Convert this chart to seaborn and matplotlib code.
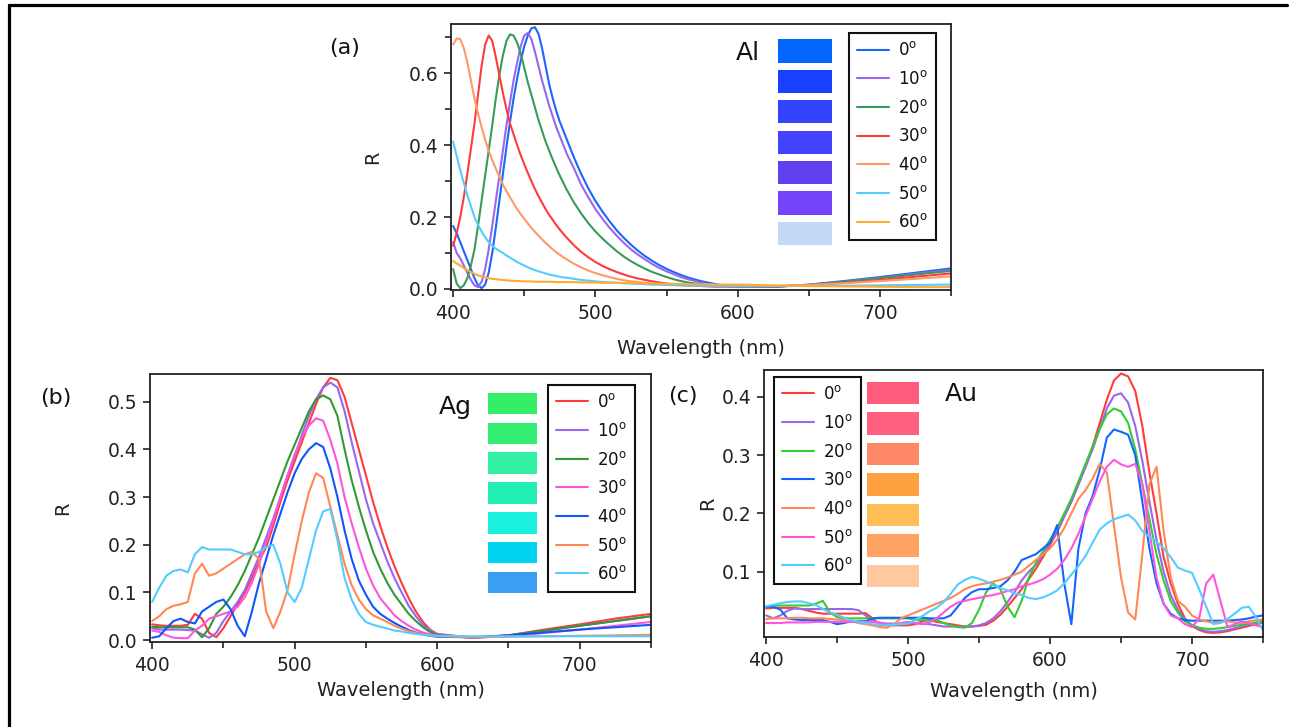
import pandas as pd
import seaborn as sns
import matplotlib.pyplot as plt
from matplotlib.lines import Line2D
from matplotlib.patches import Rectangle
from matplotlib.ticker import FixedLocator, FormatStrFormatter

angles = ["0", "10", "20", "30", "40", "50", "60"]

# wavelength grids (nm); finer steps where the Al peaks are narrow
al_wl = [400 + 2.5 * i for i in range(33)] + list(range(485, 605, 5)) + [625, 650, 675, 700, 725, 750]
ag_wl = list(range(400, 605, 5)) + [625, 650, 675, 700, 725, 750]
au_wl = list(range(400, 755, 5))

# ---- (a) Al ----
al_0 = [0.175, 0.155, 0.13, 0.105, 0.08, 0.055, 0.03, 0.01, 0.002, 0.012, 0.045,
        0.1, 0.17, 0.245, 0.32, 0.395, 0.465, 0.53, 0.585, 0.635, 0.675, 0.705,
        0.725, 0.728, 0.71, 0.67, 0.62, 0.57, 0.53, 0.495, 0.465, 0.44, 0.415,
        0.365, 0.32, 0.28, 0.245, 0.215, 0.188, 0.163, 0.142, 0.123, 0.106, 0.091, 0.078,
        0.066, 0.056, 0.047, 0.039, 0.032, 0.026, 0.021, 0.017, 0.013, 0.01, 0.008, 0.007,
        0.006, 0.012, 0.022, 0.033, 0.045, 0.057]
al_10 = [0.13, 0.1, 0.085, 0.065, 0.045, 0.025, 0.01, 0.005, 0.02, 0.055, 0.11,
         0.175, 0.245, 0.315, 0.385, 0.455, 0.52, 0.58, 0.63, 0.675, 0.705, 0.712,
         0.695, 0.66, 0.62, 0.58, 0.545, 0.51, 0.48, 0.45, 0.425, 0.4, 0.375,
         0.335, 0.29, 0.255, 0.222, 0.195, 0.17, 0.148, 0.128, 0.11, 0.095, 0.082, 0.069,
         0.058, 0.049, 0.041, 0.033, 0.027, 0.022, 0.017, 0.013, 0.011, 0.009, 0.007, 0.006,
         0.006, 0.011, 0.02, 0.031, 0.042, 0.053]
al_20 = [0.055, 0.015, 0.002, 0.01, 0.03, 0.065, 0.11, 0.175, 0.245, 0.315, 0.385,
         0.455, 0.53, 0.595, 0.65, 0.69, 0.708, 0.705, 0.685, 0.655, 0.615, 0.575,
         0.54, 0.505, 0.47, 0.44, 0.41, 0.385, 0.36, 0.337, 0.315, 0.295, 0.275,
         0.24, 0.21, 0.183, 0.16, 0.14, 0.122, 0.105, 0.09, 0.077, 0.066, 0.056, 0.047,
         0.04, 0.033, 0.027, 0.022, 0.018, 0.015, 0.012, 0.01, 0.009, 0.008, 0.007, 0.006,
         0.006, 0.011, 0.02, 0.03, 0.04, 0.05]
al_30 = [0.12, 0.155, 0.2, 0.255, 0.32, 0.39, 0.46, 0.54, 0.62, 0.68, 0.705,
         0.69, 0.645, 0.595, 0.545, 0.5, 0.46, 0.43, 0.4, 0.372, 0.347, 0.323,
         0.3, 0.278, 0.258, 0.24, 0.222, 0.206, 0.192, 0.178, 0.165, 0.153, 0.142,
         0.121, 0.103, 0.088, 0.075, 0.064, 0.055, 0.047, 0.04, 0.034, 0.029, 0.025, 0.021,
         0.018, 0.015, 0.013, 0.011, 0.01, 0.009, 0.008, 0.007, 0.006, 0.006, 0.006, 0.006,
         0.007, 0.01, 0.017, 0.025, 0.034, 0.043]
al_40 = [0.68, 0.697, 0.695, 0.67, 0.63, 0.58, 0.53, 0.488, 0.45, 0.415, 0.385,
         0.358, 0.335, 0.312, 0.29, 0.272, 0.255, 0.238, 0.222, 0.208, 0.195, 0.182,
         0.17, 0.159, 0.148, 0.138, 0.128, 0.119, 0.11, 0.102, 0.095, 0.088, 0.082,
         0.07, 0.06, 0.051, 0.044, 0.038, 0.033, 0.028, 0.024, 0.021, 0.019, 0.017, 0.015,
         0.013, 0.012, 0.011, 0.01, 0.009, 0.009, 0.008, 0.008, 0.007, 0.007, 0.007, 0.007,
         0.008, 0.011, 0.016, 0.022, 0.028, 0.035]
al_50 = [0.41, 0.37, 0.33, 0.295, 0.26, 0.23, 0.2, 0.178, 0.16, 0.144, 0.13,
         0.12, 0.112, 0.106, 0.1, 0.093, 0.087, 0.081, 0.075, 0.07, 0.065, 0.06,
         0.056, 0.052, 0.049, 0.046, 0.043, 0.04, 0.038, 0.036, 0.034, 0.032, 0.031,
         0.028, 0.025, 0.023, 0.021, 0.019, 0.018, 0.017, 0.016, 0.015, 0.014, 0.013, 0.012,
         0.012, 0.011, 0.011, 0.01, 0.01, 0.009, 0.009, 0.009, 0.008, 0.008, 0.008, 0.008,
         0.008, 0.008, 0.009, 0.01, 0.011, 0.012]
al_60 = [0.078, 0.071, 0.065, 0.058, 0.052, 0.047, 0.042, 0.038, 0.035, 0.032, 0.03,
         0.028, 0.027, 0.026, 0.025, 0.024, 0.023, 0.0225, 0.022, 0.0215, 0.021, 0.021,
         0.021, 0.02, 0.02, 0.02, 0.02, 0.02, 0.02, 0.019, 0.019, 0.019, 0.019,
         0.019, 0.018, 0.018, 0.018, 0.017, 0.017, 0.017, 0.016, 0.016, 0.016, 0.015, 0.015,
         0.015, 0.014, 0.014, 0.014, 0.013, 0.013, 0.013, 0.013, 0.012, 0.012, 0.012, 0.012,
         0.01, 0.008, 0.007, 0.006, 0.005, 0.005]

# ---- (b) Ag ----
ag_0 = [0.033, 0.031, 0.03, 0.03, 0.03, 0.032, 0.055, 0.045, 0.015, 0.006,
        0.025, 0.05, 0.075, 0.1, 0.13, 0.165, 0.195, 0.24, 0.29, 0.335,
        0.375, 0.415, 0.455, 0.495, 0.53, 0.55, 0.545, 0.51, 0.455, 0.4,
        0.345, 0.29, 0.24, 0.195, 0.155, 0.12, 0.088, 0.06, 0.038, 0.022,
        0.013, 0.005, 0.01, 0.022, 0.033, 0.045, 0.055]
ag_10 = [0.025, 0.022, 0.022, 0.022, 0.022, 0.021, 0.02, 0.012, 0.005, 0.015,
         0.04, 0.06, 0.08, 0.105, 0.14, 0.175, 0.215, 0.255, 0.3, 0.345,
         0.385, 0.43, 0.47, 0.505, 0.53, 0.54, 0.53, 0.48, 0.415, 0.355,
         0.295, 0.245, 0.205, 0.165, 0.13, 0.1, 0.072, 0.05, 0.032, 0.02,
         0.012, 0.005, 0.009, 0.019, 0.03, 0.04, 0.05]
ag_20 = [0.028, 0.027, 0.027, 0.027, 0.027, 0.027, 0.022, 0.006, 0.025, 0.055,
         0.07, 0.09, 0.115, 0.145, 0.18, 0.215, 0.255, 0.295, 0.335, 0.375,
         0.41, 0.445, 0.48, 0.505, 0.513, 0.505, 0.47, 0.4, 0.335, 0.28,
         0.23, 0.185, 0.15, 0.12, 0.095, 0.075, 0.055, 0.04, 0.027, 0.017,
         0.01, 0.005, 0.01, 0.02, 0.03, 0.04, 0.05]
ag_30 = [0.02, 0.017, 0.01, 0.005, 0.004, 0.004, 0.02, 0.03, 0.045, 0.05,
         0.055, 0.06, 0.07, 0.09, 0.12, 0.16, 0.205, 0.25, 0.3, 0.345,
         0.39, 0.425, 0.45, 0.465, 0.46, 0.42, 0.37, 0.3, 0.245, 0.195,
         0.15, 0.115, 0.088, 0.07, 0.052, 0.04, 0.03, 0.022, 0.016, 0.012,
         0.009, 0.005, 0.008, 0.015, 0.022, 0.03, 0.038]
ag_40 = [0.005, 0.008, 0.025, 0.04, 0.045, 0.038, 0.035, 0.06, 0.07, 0.08,
         0.085, 0.065, 0.03, 0.008, 0.06, 0.12, 0.17, 0.22, 0.265, 0.31,
         0.35, 0.38, 0.4, 0.413, 0.405, 0.36, 0.3, 0.23, 0.17, 0.125,
         0.095, 0.07, 0.055, 0.045, 0.036, 0.028, 0.021, 0.016, 0.012, 0.009,
         0.007, 0.006, 0.01, 0.016, 0.022, 0.027, 0.032]
ag_50 = [0.04, 0.05, 0.065, 0.072, 0.075, 0.08, 0.14, 0.16, 0.135, 0.14,
         0.15, 0.16, 0.17, 0.18, 0.185, 0.17, 0.06, 0.025, 0.06, 0.105,
         0.18, 0.25, 0.31, 0.35, 0.34, 0.28, 0.22, 0.16, 0.115, 0.085,
         0.065, 0.052, 0.045, 0.038, 0.03, 0.024, 0.019, 0.015, 0.012, 0.01,
         0.008, 0.006, 0.007, 0.008, 0.009, 0.01, 0.011]
ag_60 = [0.08, 0.11, 0.135, 0.145, 0.148, 0.142, 0.18, 0.195, 0.19, 0.19,
         0.19, 0.19, 0.185, 0.18, 0.18, 0.185, 0.195, 0.2, 0.16, 0.1,
         0.08, 0.11, 0.17, 0.23, 0.27, 0.275, 0.21, 0.13, 0.085, 0.055,
         0.038, 0.032, 0.028, 0.024, 0.02, 0.018, 0.015, 0.013, 0.011, 0.01,
         0.009, 0.008, 0.008, 0.008, 0.008, 0.008, 0.008]

# ---- (c) Au ----
au_0 = [0.037, 0.038, 0.038, 0.038, 0.038, 0.036, 0.033, 0.03, 0.028, 0.028,
        0.028, 0.028, 0.028, 0.028, 0.029, 0.02, 0.009, 0.008, 0.008, 0.008,
        0.008, 0.01, 0.015, 0.017, 0.014, 0.012, 0.01, 0.008, 0.006, 0.006,
        0.007, 0.009, 0.016, 0.026, 0.04, 0.055, 0.07, 0.087, 0.105, 0.125,
        0.146, 0.168, 0.195, 0.22, 0.25, 0.28, 0.315, 0.355, 0.395, 0.428,
        0.44, 0.435, 0.41, 0.35, 0.27, 0.2, 0.125, 0.08, 0.045, 0.02,
        0.007, 0.0, -0.004, -0.005, -0.004, -0.002, 0.001, 0.004, 0.007, 0.01,
        0.013]
au_10 = [0.025, 0.02, 0.025, 0.033, 0.037, 0.036, 0.036, 0.036, 0.036, 0.036,
         0.036, 0.036, 0.036, 0.034, 0.025, 0.015, 0.012, 0.011, 0.011, 0.011,
         0.011, 0.012, 0.011, 0.01, 0.008, 0.006, 0.006, 0.006, 0.006, 0.006,
         0.008, 0.012, 0.02, 0.032, 0.048, 0.065, 0.085, 0.1, 0.112, 0.13,
         0.15, 0.17, 0.195, 0.22, 0.25, 0.28, 0.31, 0.345, 0.38, 0.402,
         0.406, 0.39, 0.35, 0.29, 0.22, 0.155, 0.1, 0.06, 0.035, 0.018,
         0.008, 0.002, -0.002, -0.003, -0.002, 0.0, 0.003, 0.006, 0.009, 0.012,
         0.015]
au_20 = [0.04, 0.042, 0.042, 0.042, 0.042, 0.042, 0.042, 0.045, 0.05, 0.03,
         0.022, 0.02, 0.02, 0.02, 0.02, 0.02, 0.02, 0.02, 0.02, 0.02,
         0.02, 0.017, 0.017, 0.017, 0.017, 0.012, 0.008, 0.005, 0.004, 0.012,
         0.035, 0.065, 0.08, 0.07, 0.04, 0.022, 0.05, 0.09, 0.115, 0.135,
         0.155, 0.175, 0.2, 0.225, 0.255, 0.285, 0.315, 0.345, 0.37, 0.38,
         0.375, 0.355, 0.31, 0.25, 0.19, 0.13, 0.085, 0.05, 0.03, 0.015,
         0.008, 0.004, 0.002, 0.002, 0.003, 0.005, 0.007, 0.009, 0.011, 0.013,
         0.015]
au_30 = [0.04, 0.04, 0.035, 0.02, 0.018, 0.017, 0.017, 0.017, 0.017, 0.014,
         0.01, 0.012, 0.015, 0.015, 0.015, 0.02, 0.021, 0.021, 0.021, 0.021,
         0.021, 0.021, 0.021, 0.02, 0.02, 0.02, 0.025, 0.04, 0.055, 0.065,
         0.07, 0.07, 0.072, 0.075, 0.085, 0.1, 0.12, 0.125, 0.13, 0.14,
         0.15, 0.18, 0.08, 0.01, 0.14, 0.2, 0.23, 0.275, 0.33, 0.344,
         0.34, 0.335, 0.3, 0.22, 0.14, 0.08, 0.045, 0.028, 0.02, 0.017,
         0.016, 0.016, 0.016, 0.016, 0.016, 0.016, 0.017, 0.018, 0.02, 0.023,
         0.025]
au_40 = [0.019, 0.02, 0.02, 0.02, 0.021, 0.021, 0.02, 0.02, 0.02, 0.019,
         0.018, 0.017, 0.015, 0.012, 0.01, 0.008, 0.005, 0.004, 0.01, 0.02,
         0.025, 0.03, 0.035, 0.04, 0.045, 0.05, 0.055, 0.062, 0.07, 0.075,
         0.078, 0.08, 0.083, 0.086, 0.09, 0.095, 0.1, 0.11, 0.12, 0.13,
         0.14, 0.155, 0.175, 0.2, 0.225, 0.24, 0.26, 0.285, 0.27, 0.18,
         0.09, 0.03, 0.018, 0.13, 0.25, 0.28, 0.17, 0.09, 0.05, 0.04,
         0.025, 0.018, 0.015, 0.012, 0.014, 0.015, 0.013, 0.012, 0.015, 0.017,
         0.018]
au_50 = [0.012, 0.012, 0.012, 0.013, 0.013, 0.013, 0.013, 0.014, 0.014, 0.014,
         0.014, 0.014, 0.014, 0.014, 0.014, 0.014, 0.013, 0.01, 0.008, 0.012,
         0.014, 0.012, 0.01, 0.013, 0.02, 0.03, 0.04, 0.047, 0.05, 0.053,
         0.055, 0.058, 0.06, 0.063, 0.067, 0.07, 0.075, 0.078, 0.082, 0.087,
         0.095, 0.105, 0.12, 0.14, 0.165, 0.195, 0.225, 0.255, 0.28, 0.292,
         0.284, 0.28, 0.285, 0.25, 0.17, 0.09, 0.045, 0.025, 0.02, 0.01,
         0.005, 0.02, 0.08, 0.095, 0.05, 0.005, 0.01, 0.015, 0.012, 0.008,
         0.005]
au_60 = [0.041, 0.043, 0.046, 0.048, 0.049, 0.049, 0.046, 0.043, 0.036, 0.03,
         0.026, 0.021, 0.017, 0.014, 0.012, 0.01, 0.009, 0.0085, 0.009, 0.01,
         0.011, 0.017, 0.024, 0.032, 0.038, 0.048, 0.062, 0.078, 0.086, 0.091,
         0.088, 0.083, 0.077, 0.072, 0.068, 0.063, 0.06, 0.055, 0.053, 0.056,
         0.061, 0.068, 0.08, 0.095, 0.11, 0.127, 0.15, 0.172, 0.183, 0.19,
         0.194, 0.198, 0.188, 0.17, 0.16, 0.152, 0.14, 0.125, 0.107, 0.102,
         0.098, 0.07, 0.04, 0.01, 0.012, 0.019, 0.028, 0.038, 0.04, 0.022,
         0.0]

# line colours per angle
al_colors = ["#1a66ff", "#9966ee", "#3a9a5a", "#ff3b3b", "#ff9966", "#55ccff", "#ffaa33"]
ag_colors = ["#ff3b3b", "#9966ee", "#339933", "#ff55dd", "#1155ff", "#ff8855", "#55ccff"]
au_colors = ["#ff3b3b", "#9966ee", "#33cc33", "#1166ff", "#ff8855", "#ff55dd", "#55ccff"]

# perceived colour swatches
al_swatch = ["#0066ff", "#1a40ff", "#3344ff", "#4242ff", "#6040ee", "#7444f8", "#c2d9f8"]
ag_swatch = ["#33ee66", "#33ee72", "#33f0a2", "#22eeb4", "#1af0dc", "#00d4f0", "#3a9ff0"]
au_swatch = ["#ff5c7c", "#ff6080", "#ff8866", "#ffa040", "#ffbe58", "#ffa262", "#ffc8a0"]


def long_df(wl, series):
    rows = []
    for ang, vals in zip(angles, series):
        for w, r in zip(wl, vals):
            rows.append((w, r, ang))
    return pd.DataFrame(rows, columns=["wavelength", "R", "angle"])


def draw_panel(ax, wl, series, colors, swatches, metal, ylim, yticks, yminor,
               leg_loc, leg_anchor, sw_x, sw_w, sw_top, sw_step, sw_h,
               metal_xy, ylab_x, xlab_xy):
    df = long_df(wl, series)
    sns.lineplot(data=df, x="wavelength", y="R", hue="angle", hue_order=angles,
                 palette=dict(zip(angles, colors)), estimator=None, sort=False,
                 legend=False, linewidth=1.5, ax=ax)
    ax.set_xlim(398.5, 750)
    ax.set_ylim(*ylim)
    ax.xaxis.set_major_locator(FixedLocator([400, 500, 600, 700]))
    ax.xaxis.set_minor_locator(FixedLocator([450, 550, 650, 750]))
    ax.yaxis.set_major_locator(FixedLocator(yticks))
    if yminor:
        ax.yaxis.set_minor_locator(FixedLocator(yminor))
    ax.yaxis.set_major_formatter(FormatStrFormatter("%.1f"))
    ax.set_xlabel("Wavelength (nm)", fontsize=14)
    ax.set_ylabel("R", fontsize=14)
    ax.xaxis.set_label_coords(*xlab_xy)
    ax.yaxis.set_label_coords(ylab_x, 0.5)

    handles = [Line2D([], [], color=c, lw=1.5) for c in colors]
    labels = [a + r"$^{\rm o}$" for a in angles]
    leg = ax.legend(handles, labels, loc=leg_loc, bbox_to_anchor=leg_anchor,
                    frameon=True, fancybox=False, framealpha=1, edgecolor="#111111",
                    fontsize=12, handlelength=1.9, handletextpad=0.55,
                    labelspacing=0.64, borderpad=0.5, borderaxespad=0)
    leg.get_frame().set_linewidth(1.5)

    for i, c in enumerate(swatches):
        ax.add_patch(Rectangle((sw_x, sw_top - i * sw_step - sw_h), sw_w, sw_h,
                               transform=ax.transAxes, facecolor=c,
                               edgecolor="none", clip_on=False, zorder=5))
    ax.text(metal_xy[0], metal_xy[1], metal, transform=ax.transAxes,
            fontsize=18, ha="center", va="center")


sns.set_theme(style="ticks")
plt.rcParams["font.family"] = ["DejaVu Sans"]
plt.rcParams.update({
    "axes.edgecolor": "#222222",
    "axes.linewidth": 1.3,
    "xtick.color": "#222222",
    "ytick.color": "#222222",
    "xtick.labelsize": 13.5,
    "ytick.labelsize": 13.5,
    "xtick.major.size": 5,
    "ytick.major.size": 5,
    "xtick.minor.size": 4,
    "ytick.minor.size": 4,
    "xtick.major.width": 1.2,
    "ytick.major.width": 1.2,
    "xtick.minor.width": 1.2,
    "ytick.minor.width": 1.2,
    "xtick.major.pad": 5,
    "ytick.major.pad": 4,
    "axes.labelcolor": "#222222",
    "text.color": "#111111",
})

W, H = 1296, 727
fig = plt.figure(figsize=(W / 100, H / 100), dpi=100)


def px_axes(x0, y0, x1, y1):
    return fig.add_axes([x0 / W, 1 - y1 / H, (x1 - x0) / W, (y1 - y0) / H])


ax_a = px_axes(451, 24, 951, 290)
ax_b = px_axes(150, 374, 651, 642)
ax_c = px_axes(764, 370, 1263, 637)

draw_panel(ax_a, al_wl, [al_0, al_10, al_20, al_30, al_40, al_50, al_60],
           al_colors, al_swatch, "Al", (-0.003, 0.737),
           [0.0, 0.2, 0.4, 0.6], [0.1, 0.3, 0.5, 0.7],
           "upper right", (0.97, 0.966),
           0.654, 0.108, 0.9425, 0.1143, 0.0876,
           (0.594, 0.891), -0.137, (0.5, -0.186))

draw_panel(ax_b, ag_wl, [ag_0, ag_10, ag_20, ag_30, ag_40, ag_50, ag_60],
           ag_colors, ag_swatch, "Ag", (-0.004, 0.558),
           [0.0, 0.1, 0.2, 0.3, 0.4, 0.5], None,
           "upper right", (0.968, 0.959),
           0.675, 0.098, 0.930, 0.1112, 0.081,
           (0.609, 0.877), -0.155, (0.5, -0.145))

draw_panel(ax_c, au_wl, [au_0, au_10, au_20, au_30, au_40, au_50, au_60],
           au_colors, au_swatch, "Au", (-0.012, 0.446),
           [0.1, 0.2, 0.3, 0.4], None,
           "upper left", (0.02, 0.974),
           0.206, 0.104, 0.956, 0.1142, 0.085,
           (0.395, 0.91), -0.094, (0.5, -0.17))

fig.text(345 / W, 1 - 48 / H, "(a)", fontsize=16, ha="center", va="center")
fig.text(56 / W, 1 - 398 / H, "(b)", fontsize=16, ha="center", va="center")
fig.text(683 / W, 1 - 396 / H, "(c)", fontsize=16, ha="center", va="center")

# outer frame (left and top edges)
fig.add_artist(Line2D([9 / W, 9 / W], [0, 1 - 5 / H], color="black", lw=2.3))
fig.add_artist(Line2D([9 / W, 1287 / W], [1 - 5 / H, 1 - 5 / H], color="black", lw=2.3))

fig.savefig("out.png", dpi=100)
